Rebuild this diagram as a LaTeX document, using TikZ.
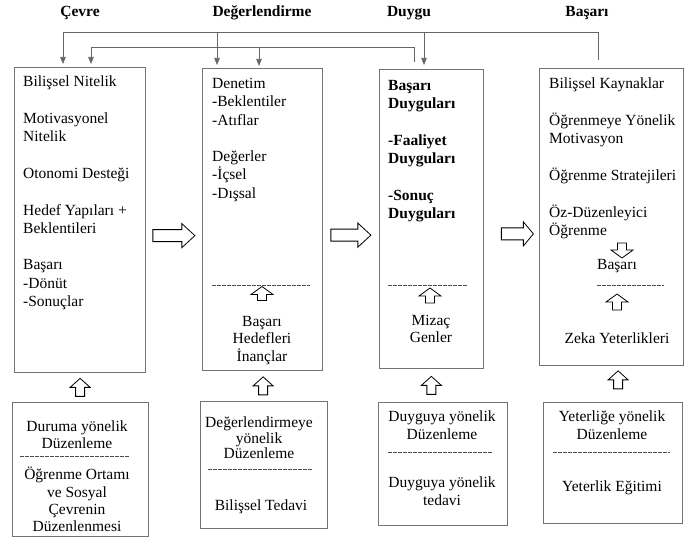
\documentclass[tikz,border=0pt]{standalone}
\usepackage{fontspec}
\setmainfont{Liberation Serif}
\usetikzlibrary{arrows.meta,calc}
\tikzset{
  box/.style={draw=black!55,line width=0.75pt,anchor=north west,inner sep=0pt},
  txt/.style={align=left,inner sep=0pt,font=\fontsize{15.5}{18.3}\selectfont},
  ctxt/.style={align=center,inner sep=0pt,font=\fontsize{15.5}{#1}\selectfont},
  ctxt/.default=17.5,
  hdr/.style={inner sep=0pt,font=\fontsize{15.5}{18}\selectfont\bfseries},
  fb/.style={draw=black!60,line width=0.7pt},
  dsh/.style={draw=black!70,line width=0.6pt,dash pattern=on 3.5pt off 1.5pt},
  blk/.style={draw=black,fill=white,line width=0.8pt,line join=miter},
  pics/barrow/.style n args={4}{code={
    \draw[blk] (-#1/2,-#3) -- (#1/2-#4,-#3) -- (#1/2-#4,-#2) -- (#1/2,0)
      -- (#1/2-#4,#2) -- (#1/2-#4,#3) -- (-#1/2,#3) -- cycle;}}
}
\begin{document}
\begin{tikzpicture}[x=1pt,y=-1pt,>={Triangle[length=7pt,width=5.5pt]}]
  \useasboundingbox (0,0) rectangle (685,537);
  % headings
  \node[hdr] (h1) at (80,13) {Çevre};
  \node[hdr] (h2) at (262,13) {Değerlendirme};
  \node[hdr] (h3) at (409,13) {Duygu};
  \node[hdr] (h4) at (587,13) {Başarı};

  % upper boxes
  \node[box,minimum width=131pt,minimum height=305pt] (b1) at (14,67) {};
  \node[box,minimum width=120pt,minimum height=302pt] (b2) at (202,68) {};
  \node[box,minimum width=104pt,minimum height=299pt] (b3) at (379,69) {};
  \node[box,minimum width=144pt,minimum height=297pt] (b4) at (539,68) {};

  % lower boxes
  \node[box,minimum width=136pt,minimum height=134pt] (b5) at (12,402) {};
  \node[box,minimum width=127pt,minimum height=127pt] (b6) at (200,401) {};
  \node[box,minimum width=129pt,minimum height=123pt] (b7) at (378,402) {};
  \node[box,minimum width=139pt,minimum height=121pt] (b8) at (543,402) {};

  % box texts
  \node[txt,anchor=north west] (t1) at (23,76) {Bilişsel Nitelik\\[18.3pt]Motivasyonel\\Nitelik\\[18.3pt]Otonomi Desteği\\[18.3pt]Hedef Yapıları +\\Beklentileri\\[18.3pt]Başarı\\-Dönüt\\-Sonuçlar};
  \node[txt,anchor=north west] (t2) at (212,78) {Denetim\\-Beklentiler\\-Atıflar\\[18.3pt]Değerler\\-İçsel\\-Dışsal};
  \node[ctxt,anchor=north] (t2b) at (262,316) {Başarı\\Hedefleri\\İnançlar};
  \node[txt,anchor=north west,font=\fontsize{15.5}{18.3}\selectfont\bfseries] (t3) at (388,80) {Başarı\\Duyguları\\[18.3pt]-Faaliyet\\Duyguları\\[18.3pt]-Sonuç\\Duyguları};
  \node[ctxt,anchor=north] (t3b) at (431,315) {Mizaç\\Genler};
  \node[txt,anchor=north west] (t4) at (549,78) {Bilişsel Kaynaklar\\[18.3pt]Öğrenmeye Yönelik\\Motivasyon\\[18.3pt]Öğrenme Stratejileri\\[18.3pt]Öz-Düzenleyici\\Öğrenme};
  \node[ctxt] (t4b) at (617,266) {Başarı};
  \node[ctxt] (t4c) at (617,338) {Zeka Yeterlikleri};

  \node[ctxt=16.5,anchor=north] (t5) at (77,421) {Duruma yönelik\\Düzenleme};
  \node[ctxt=17.3,anchor=north] (t5b) at (77,467) {Öğrenme Ortamı\\ve Sosyal\\Çevrenin\\Düzenlenmesi};
  \node[ctxt=15.2,anchor=north] (t6) at (259,417) {Değerlendirmeye\\yönelik\\Düzenleme};
  \node[ctxt] (t6b) at (261,507) {Bilişsel Tedavi};
  \node[ctxt=18,anchor=north] (t7) at (442,411) {Duyguya yönelik\\Düzenleme};
  \node[ctxt=18,anchor=north] (t7b) at (442,477) {Duyguya yönelik\\tedavi};
  \node[ctxt=18,anchor=north] (t8) at (612,411) {Yeterliğe yönelik\\Düzenleme};
  \node[ctxt] (t8b) at (612,488) {Yeterlik Eğitimi};

  % dashed separators
  \draw[dsh] (212,285) -- (310,285);
  \draw[dsh] (388,285) -- (467,285);
  \draw[dsh] (597,285) -- (664,285);
  \draw[dsh] (20,456) -- (130,456);
  \draw[dsh] (208,469) -- (313,469);
  \draw[dsh] (388,452) -- (492,452);
  \draw[dsh] (553,452) -- (670,452);

  % small arrows inside boxes
  \pic[rotate=90] at (262,293.5) {barrow={14}{11}{4.5}{8}};
  \pic[rotate=90] at (430,295.5) {barrow={15}{11}{4.5}{8}};
  \pic[rotate=-90] at (622,250.5) {barrow={15}{11}{4.5}{8}};
  \pic[rotate=90] at (617,302) {barrow={16}{11}{4.5}{8}};

  % arrows between boxes
  \pic at ($(b1.east)!.5!(b2.west)+(0,16)$) {barrow={42}{12}{6}{13}};
  \pic at ($(b2.east)!.5!(b3.west)+(0,16)$) {barrow={40}{12}{6}{13}};
  \pic at ($(b3.east)!.5!(b4.west)+(6,16)$) {barrow={32}{12}{6}{10}};
  \pic[rotate=90] at ($(b1.south)!.5!(b5.north)$) {barrow={18}{10}{4.5}{9}};
  \pic[rotate=90] at ($(b2.south)!.5!(b6.north)$) {barrow={18}{10}{4.5}{9}};
  \pic[rotate=90] at ($(b3.south)!.5!(b3.south|-b7.north)$) {barrow={18}{10}{4.5}{9}};
  \pic[rotate=90] at ($(b4.south)!.5!(b8.north)+(6,-4)$) {barrow={18}{10}{4.5}{9}};

  % feedback lines
  \coordinate (lvA) at (0,32);
  \coordinate (lvB) at (0,47);
  \coordinate (sA) at ([xshift=59pt,yshift=8pt]b4.north west);
  \coordinate (sB) at ([xshift=35pt,yshift=7pt]b3.north west);
  \coordinate (a1) at ([xshift=49pt,yshift=3pt]b1.north west);
  \coordinate (a2) at ([xshift=15pt,yshift=3pt]b2.north west);
  \coordinate (a3) at ([xshift=45pt,yshift=4pt]b3.north west);
  \coordinate (c1) at ([xshift=77pt,yshift=3pt]b1.north west);
  \coordinate (c2) at ([xshift=57pt,yshift=2pt]b2.north west);
  \draw[fb,->] (sA) -- (sA |- lvA) -- (a1 |- lvA) -- (a1);
  \draw[fb,->] (a2 |- lvA) -- (a2);
  \draw[fb,->] (a3 |- lvA) -- (a3);
  \draw[fb,->] (sB) -- (sB |- lvB) -- (c1 |- lvB) -- (c1);
  \draw[fb,->] (c2 |- lvB) -- (c2);
\end{tikzpicture}
\end{document}
